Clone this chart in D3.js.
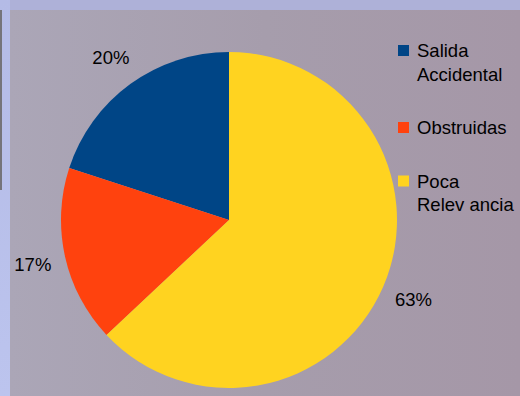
<!DOCTYPE html>
<html>
<head>
<meta charset="utf-8">
<script src="https://cdn.jsdelivr.net/npm/d3@7"></script>
<style>
  html, body { margin: 0; padding: 0; background: #b3b7de; }
  svg { display: block; }
  text { font-family: "Liberation Sans", Arial, sans-serif; fill: #000; }
</style>
</head>
<body>
<svg id="chart" width="520" height="396"></svg>
<script>
const categories = ["Salida Accidental", "Obstruidas", "Poca Relevancia"];
const legendLines = [["Salida", "Accidental"], ["Obstruidas"], ["Poca", "Relev ancia"]];
const values = [20, 17, 63];
const percentLabels = ["20%", "17%", "63%"];
const colors = ["#004586", "#ff420e", "#ffd320"];

const svg = d3.select("#chart");
const W = 520, H = 396;

// background frame
const defs = svg.append("defs");
const g1 = defs.append("linearGradient").attr("id", "panelGrad").attr("x1", "0").attr("x2", "1").attr("y1", "0").attr("y2", "0");
g1.append("stop").attr("offset", "0").attr("stop-color", "#aba6b7");
g1.append("stop").attr("offset", "0.5").attr("stop-color", "#a69dac");
g1.append("stop").attr("offset", "1").attr("stop-color", "#a597a7");
const g2 = defs.append("linearGradient").attr("id", "leftGrad").attr("x1", "0").attr("x2", "0").attr("y1", "0").attr("y2", "1");
g2.append("stop").attr("offset", "0").attr("stop-color", "#b4bbe6");
g2.append("stop").attr("offset", "1").attr("stop-color", "#bcc4ee");

svg.append("rect").attr("x", 0).attr("y", 0).attr("width", W).attr("height", H).attr("fill", "#aeb1d8");
svg.append("rect").attr("x", 0).attr("y", 0).attr("width", 10).attr("height", H).attr("fill", "url(#leftGrad)");
svg.append("rect").attr("x", 10).attr("y", 10).attr("width", W - 10).attr("height", H - 10).attr("fill", "url(#panelGrad)");
svg.append("rect").attr("x", 0).attr("y", 10).attr("width", 2).attr("height", 180).attr("fill", "#75747a");

// pie: clockwise from 12 o'clock — Poca Relevancia, Obstruidas, Salida Accidental
const cx = 229, cy = 220, r = 168, labelR = 201;
const pie = d3.pie().value(i => values[i]).sort((a, b) => b - a);
const arcs = pie(d3.range(values.length));
const arc = d3.arc().innerRadius(0).outerRadius(r);
const labelArc = d3.arc().innerRadius(labelR).outerRadius(labelR);

const g = svg.append("g").attr("transform", `translate(${cx},${cy})`);
g.selectAll("path").data(arcs).enter().append("path")
  .attr("d", arc)
  .attr("fill", d => colors[d.data]);

g.selectAll("text.pct").data(arcs).enter().append("text")
  .attr("class", "pct")
  .attr("x", d => labelArc.centroid(d)[0])
  .attr("y", d => labelArc.centroid(d)[1])
  .attr("dy", "0.36em")
  .attr("text-anchor", "middle")
  .attr("font-size", 18.5)
  .text(d => percentLabels[d.data]);

// legend
const lg = svg.append("g");
let y = 57;
categories.forEach((c, i) => {
  lg.append("rect").attr("x", 398).attr("y", y - 12).attr("width", 11).attr("height", 11).attr("fill", colors[i]);
  legendLines[i].forEach((line, j) => {
    lg.append("text").attr("x", 417).attr("y", y + j * 23.5).attr("font-size", 18.5).text(line);
  });
  y += legendLines[i].length * 23.5 + 30;
});
</script>
</body>
</html>
